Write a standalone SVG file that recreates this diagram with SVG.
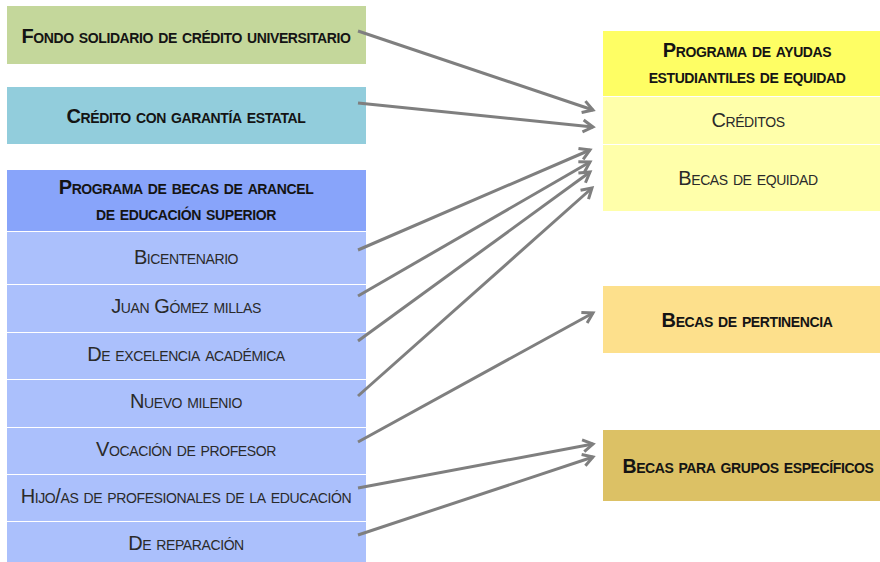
<svg xmlns="http://www.w3.org/2000/svg" width="880" height="562" viewBox="0 0 880 562">
<defs>
<marker id="arr" markerUnits="userSpaceOnUse" markerWidth="20" markerHeight="20" refX="0" refY="0" viewBox="-14 -10 16 20" orient="auto">
<path d="M-10,-6 L0,0 L-10,6" fill="none" stroke="#7f7f7f" stroke-width="3" stroke-linejoin="miter"/>
</marker>
</defs>
<style>
text{font-family:"Liberation Sans",Arial,sans-serif;font-size:20px;letter-spacing:-0.4px;font-variant:small-caps;text-anchor:middle;fill:#2a2a2a}
.b{font-weight:bold;fill:#141414}
.conn line{stroke:#7f7f7f;stroke-width:3;marker-end:url(#arr)}
</style>
<rect width="880" height="562" fill="#ffffff"/>
<g id="fondo"><rect x="7" y="6" width="359" height="58" fill="#c4d79b"/><text class="b" x="186" y="43">Fondo solidario de crédito universitario</text></g>
<g id="credito-garantia"><rect x="7" y="87" width="359" height="57" fill="#92cddc"/><text class="b" x="186" y="123">Crédito con garantía estatal</text></g>
<g id="programa-becas"><rect x="7" y="170" width="359" height="61" fill="#88a4fa"/><text class="b" x="186" y="194">Programa de becas de arancel</text><text class="b" x="186" y="220">de educación superior</text></g>
<g id="bicentenario"><rect x="7" y="232" width="359" height="52" fill="#abc0fc"/><text x="186" y="264">Bicentenario</text></g>
<g id="juan-gomez-millas"><rect x="7" y="285" width="359" height="47" fill="#abc0fc"/><text x="186" y="313">Juan Gómez millas</text></g>
<g id="excelencia"><rect x="7" y="333" width="359" height="46" fill="#abc0fc"/><text x="186" y="361">De excelencia académica</text></g>
<g id="nuevo-milenio"><rect x="7" y="380" width="359" height="47" fill="#abc0fc"/><text x="186" y="408">Nuevo milenio</text></g>
<g id="vocacion"><rect x="7" y="428" width="359" height="46" fill="#abc0fc"/><text x="186" y="456">Vocación de profesor</text></g>
<g id="hijos"><rect x="7" y="475" width="359" height="46" fill="#abc0fc"/><text x="186" y="503">Hijo/as de profesionales de la educación</text></g>
<g id="reparacion"><rect x="7" y="522" width="359" height="40" fill="#abc0fc"/><text x="186" y="550">De reparación</text></g>
<g id="programa-ayudas"><rect x="603" y="31" width="277" height="65" fill="#fefe64"/><text class="b" x="747" y="57">Programa de ayudas</text><text class="b" x="747" y="83">estudiantiles de equidad</text></g>
<g id="creditos"><rect x="603" y="97" width="277" height="47" fill="#ffffaa"/><text x="748" y="127">Créditos</text></g>
<g id="becas-equidad"><rect x="603" y="145" width="277" height="66" fill="#ffffaa"/><text x="748" y="185">Becas de equidad</text></g>
<g id="becas-pertinencia"><rect x="603" y="286" width="277" height="67" fill="#fde08c"/><text class="b" x="747" y="327">Becas de pertinencia</text></g>
<g id="becas-grupos"><rect x="603" y="430" width="277" height="71" fill="#dcc165"/><text class="b" x="748" y="473" style="font-size:19.5px">Becas para grupos específicos</text></g>
<g id="connectors" class="conn">
<line x1="358" y1="31" x2="593" y2="110"/>
<line x1="358" y1="103" x2="593" y2="127"/>
<line x1="358" y1="250" x2="590" y2="150"/>
<line x1="358" y1="296" x2="590" y2="162"/>
<line x1="358" y1="341" x2="590" y2="172"/>
<line x1="358" y1="396" x2="592" y2="188"/>
<line x1="358" y1="442" x2="593" y2="313"/>
<line x1="358" y1="488" x2="593" y2="444"/>
<line x1="358" y1="535" x2="593" y2="457"/>
</g>
</svg>
